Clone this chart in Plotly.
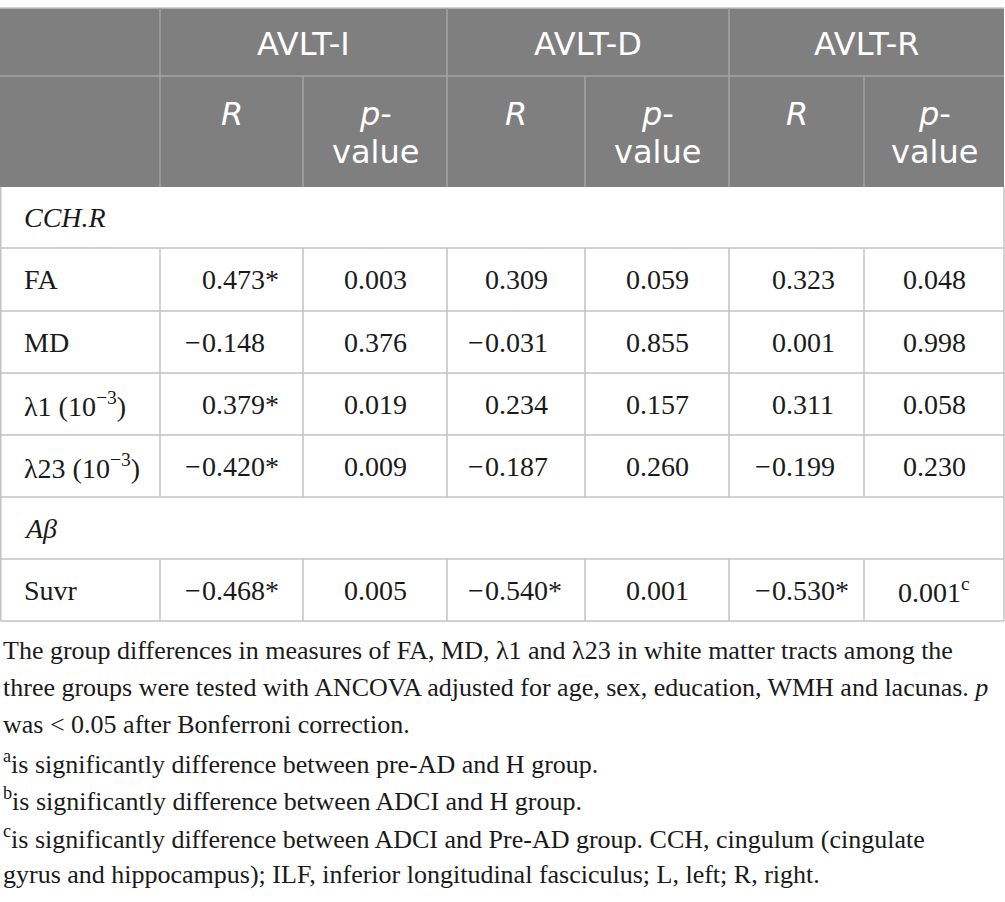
import plotly.graph_objects as go

# table content
groups = ["AVLT-I", "AVLT-D", "AVLT-R"]
cch_rows = ["FA", "MD", "λ1 (10<sup>−3</sup>)", "λ23 (10<sup>−3</sup>)"]

cch_r_avlt_i = [0.473, -0.148, 0.379, -0.420]
cch_p_avlt_i = [0.003, 0.376, 0.019, 0.009]
cch_star_avlt_i = [True, False, True, True]

cch_r_avlt_d = [0.309, -0.031, 0.234, -0.187]
cch_p_avlt_d = [0.059, 0.855, 0.157, 0.260]
cch_star_avlt_d = [False, False, False, False]

cch_r_avlt_r = [0.323, 0.001, 0.311, -0.199]
cch_p_avlt_r = [0.048, 0.998, 0.058, 0.230]
cch_star_avlt_r = [False, False, False, False]

abeta_rows = ["Suvr"]
abeta_r = [-0.468, -0.540, -0.530]
abeta_p = [0.005, 0.001, 0.001]
abeta_star = [True, True, True]
abeta_p_note = ["", "", "c"]

footnote_lines = [
    "The group differences in measures of FA, MD, λ1 and λ23 in white matter tracts among the",
    "three groups were tested with ANCOVA adjusted for age, sex, education, WMH and lacunas. <i>p</i>",
    "was < 0.05 after Bonferroni correction.",
    "<sup>a</sup>is significantly difference between pre-AD and H group.",
    "<sup>b</sup>is significantly difference between ADCI and H group.",
    "<sup>c</sup>is significantly difference between ADCI and Pre-AD group. CCH, cingulum (cingulate",
    "gyrus and hippocampus); ILF, inferior longitudinal fasciculus; L, left; R, right.",
]

# geometry (pixels)
W, H = 1005, 902
col_edges = [0.75, 160, 303, 447, 585, 729, 864, 1004]
header_top, header_mid, header_bot = 8, 76, 187
row_edges = [187, 248, 311, 373, 435, 497, 559, 621]
zero_x = [200, 483, 770]  # decimal alignment of the R columns

HEAD_BG = "#7f7f7f"
HEAD_LINE = "#a3a3a3"
GRID = "#c2c2c2"
SANS = "DejaVu Sans"
SERIF = "Liberation Serif"
BODY_SIZE = 28
HEAD_SIZE = 32
NOTE_SIZE = 26


def hline(y, x0, x1, color):
    return dict(type="line", xref="x", yref="y", x0=x0, x1=x1, y0=y, y1=y,
                line=dict(color=color, width=1.5))


def vline(x, y0, y1, color):
    return dict(type="line", xref="x", yref="y", x0=x, x1=x, y0=y0, y1=y1,
                line=dict(color=color, width=1.5))


shapes = [
    dict(type="rect", xref="x", yref="y", x0=0, x1=col_edges[-1], y0=header_top, y1=header_bot,
         fillcolor=HEAD_BG, line=dict(width=0), layer="below"),
    hline(header_top, 0, col_edges[-1], GRID),
    hline(header_mid, 0, col_edges[-1], HEAD_LINE),
]
for x in [col_edges[1], col_edges[3], col_edges[5]]:
    shapes.append(vline(x, header_top, header_bot, HEAD_LINE))
for x in [col_edges[2], col_edges[4], col_edges[6]]:
    shapes.append(vline(x, header_mid, header_bot, HEAD_LINE))

for y in row_edges[1:]:
    shapes.append(hline(y, col_edges[0], col_edges[-1], GRID))
shapes.append(vline(col_edges[0], row_edges[0], row_edges[-1], GRID))
shapes.append(vline(col_edges[-1], row_edges[0], row_edges[-1], GRID))
# inner verticals only on data rows
for top, bot in [(row_edges[1], row_edges[5]), (row_edges[6], row_edges[7])]:
    for x in col_edges[1:-1]:
        shapes.append(vline(x, top, bot, GRID))

annotations = []


def text(x, y, s, size, family, color="#1a1a1a", xanchor="center"):
    annotations.append(dict(x=x, y=y, xref="x", yref="y", text=s, showarrow=False,
                            xanchor=xanchor, yanchor="middle",
                            font=dict(size=size, family=family, color=color)))


# header
for g, name in enumerate(groups):
    cx = (col_edges[1 + 2 * g] + col_edges[3 + 2 * g]) / 2
    text(cx, 44, name, HEAD_SIZE, SANS, "white")
    rx = (col_edges[1 + 2 * g] + col_edges[2 + 2 * g]) / 2
    px_ = (col_edges[2 + 2 * g] + col_edges[3 + 2 * g]) / 2
    text(rx, 114, "<i>R</i>", HEAD_SIZE, SANS, "white")
    text(px_, 114, "<i>p</i>-", HEAD_SIZE, SANS, "white")
    text(px_, 152, "value", HEAD_SIZE, SANS, "white")


def r_cell(g, y, v, star):
    s = f"{abs(v):.3f}" + ("*" if star else "")
    text(zero_x[g], y, s, BODY_SIZE, SERIF, xanchor="left")
    if v < 0:
        text(zero_x[g] + 3, y, "−", BODY_SIZE, SERIF, xanchor="right")


def p_cell(g, y, v, note=""):
    s = f"{v:.3f}" + (f"<sup>{note}</sup>" if note else "")
    cx = (col_edges[2 + 2 * g] + col_edges[3 + 2 * g]) / 2
    text(cx, y, s, BODY_SIZE, SERIF)


def mid(i):
    return (row_edges[i] + row_edges[i + 1]) / 2


text(22, mid(0), "<i>CCH.R</i>", BODY_SIZE, SERIF, xanchor="left")
cch_r = [cch_r_avlt_i, cch_r_avlt_d, cch_r_avlt_r]
cch_p = [cch_p_avlt_i, cch_p_avlt_d, cch_p_avlt_r]
cch_star = [cch_star_avlt_i, cch_star_avlt_d, cch_star_avlt_r]
for i, label in enumerate(cch_rows):
    y = mid(1 + i)
    text(22, y, label, BODY_SIZE, SERIF, xanchor="left")
    for g in range(3):
        r_cell(g, y, cch_r[g][i], cch_star[g][i])
        p_cell(g, y, cch_p[g][i])

text(22, mid(5), "<i>Aβ</i>", BODY_SIZE, SERIF, xanchor="left")
y = mid(6)
text(22, y, abeta_rows[0], BODY_SIZE, SERIF, xanchor="left")
for g in range(3):
    r_cell(g, y, abeta_r[g], abeta_star[g])
    p_cell(g, y, abeta_p[g], abeta_p_note[g])

# footnote
for i, line in enumerate(footnote_lines):
    text(1, 650 + 37.4 * i, line, NOTE_SIZE, SERIF, xanchor="left")

fig = go.Figure()
fig.update_layout(
    width=W, height=H,
    margin=dict(l=0, r=0, t=0, b=0),
    paper_bgcolor="white", plot_bgcolor="white",
    xaxis=dict(range=[0, W], visible=False, fixedrange=True),
    yaxis=dict(range=[H, 0], visible=False, fixedrange=True),
    shapes=shapes, annotations=annotations, showlegend=False,
)
# drop the browser's default 8px body margin so the table sits at the page edge
fig.write_html("out.html", config={"displayModeBar": False},
               post_script="document.body.style.margin='0px';document.body.style.overflow='hidden';")
